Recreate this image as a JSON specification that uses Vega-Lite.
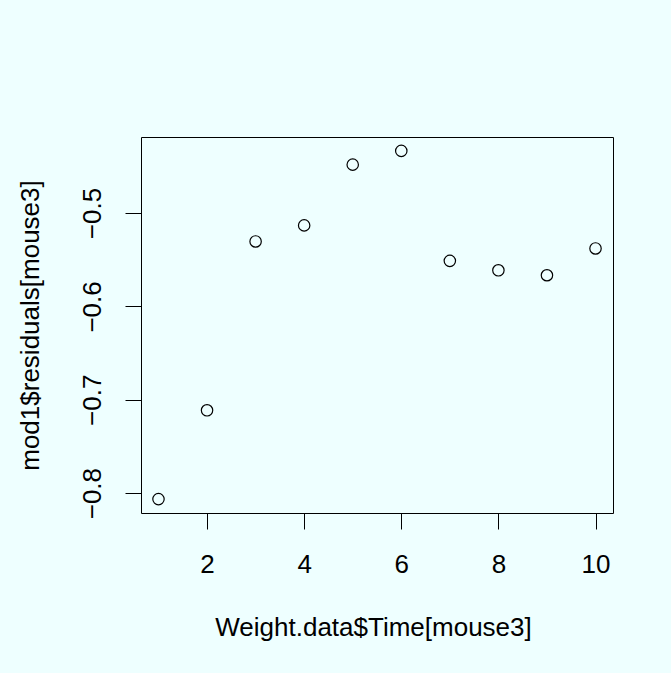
{
  "$schema": "https://vega.github.io/schema/vega-lite/v6.json",
  "autosize": "none",
  "width": 472,
  "height": 376,
  "padding": {"left": 141, "top": 137, "right": 58, "bottom": 160},
  "background": "#EEFFFF",
  "config": {
    "view": {"stroke": "#000000", "strokeWidth": 1},
    "font": "Liberation Sans",
    "axis": {
      "domain": false,
      "grid": false,
      "tickColor": "#000000",
      "tickSize": 16,
      "tickWidth": 1,
      "labelFont": "Liberation Sans",
      "labelFontSize": 26,
      "labelColor": "#000000",
      "titleFont": "Liberation Sans",
      "titleFontSize": 26,
      "titleFontWeight": "normal",
      "titleColor": "#000000"
    }
  },
  "data": {
    "values": [
      {"time": 1, "residual": -0.8064},
      {"time": 2, "residual": -0.7113},
      {"time": 3, "residual": -0.5304},
      {"time": 4, "residual": -0.5132},
      {"time": 5, "residual": -0.4481},
      {"time": 6, "residual": -0.4334},
      {"time": 7, "residual": -0.5512},
      {"time": 8, "residual": -0.5613},
      {"time": 9, "residual": -0.5666},
      {"time": 10, "residual": -0.5379}
    ]
  },
  "mark": {"type": "point", "shape": "circle", "filled": false, "stroke": "#000000", "strokeWidth": 1.2, "size": 130, "opacity": 1},
  "encoding": {
    "x": {
      "field": "time",
      "type": "quantitative",
      "scale": {"domain": [0.64, 10.36], "nice": false, "zero": false},
      "axis": {
        "values": [2, 4, 6, 8, 10],
        "format": "d",
        "labelBaseline": "alphabetic",
        "labelPadding": 43,
        "labelFlush": false,
        "title": "Weight.data$Time[mouse3]",
        "titleBaseline": "alphabetic",
        "titleX": 232,
        "titleY": 122
      }
    },
    "y": {
      "field": "residual",
      "type": "quantitative",
      "scale": {"domain": [-0.8213, -0.4185], "nice": false, "zero": false},
      "axis": {
        "values": [-0.8, -0.7, -0.6, -0.5],
        "format": ".1f",
        "labelAngle": 270,
        "labelAlign": "center",
        "labelBaseline": "alphabetic",
        "labelPadding": 25,
        "labelFlush": false,
        "title": "mod1$residuals[mouse3]",
        "titleAngle": 270,
        "titleAlign": "center",
        "titleBaseline": "alphabetic",
        "titleX": -103,
        "titleY": 188
      }
    }
  }
}
